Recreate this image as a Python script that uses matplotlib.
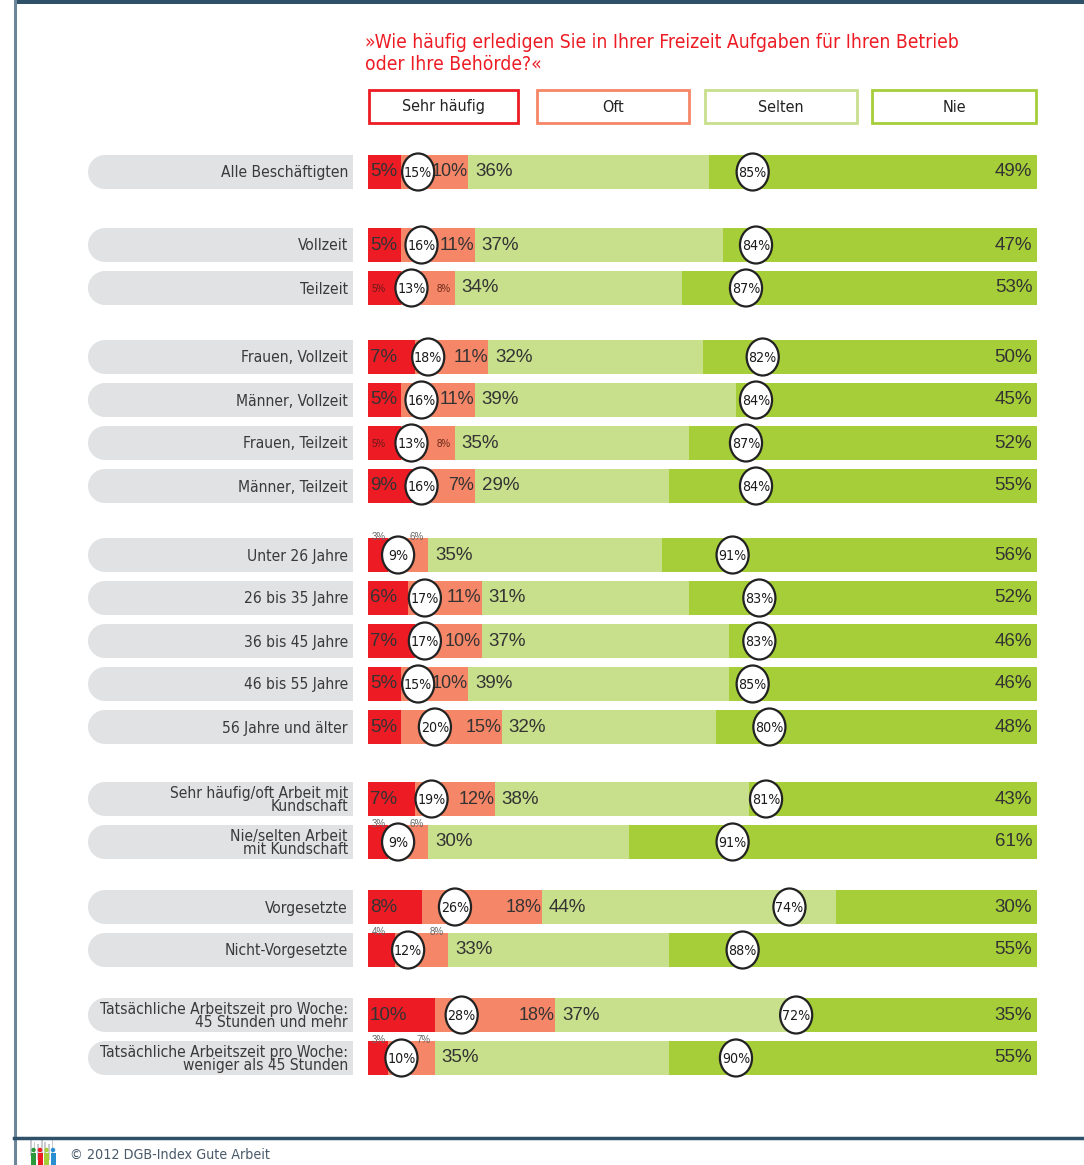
import matplotlib.pyplot as plt
from matplotlib import font_manager as fm
from matplotlib.patches import Rectangle, Ellipse

# Daten aus der Grafik
labels = ['Alle Beschäftigten', 'Vollzeit', 'Teilzeit',
          'Frauen, Vollzeit', 'Männer, Vollzeit', 'Frauen, Teilzeit', 'Männer, Teilzeit',
          'Unter 26 Jahre', '26 bis 35 Jahre', '36 bis 45 Jahre', '46 bis 55 Jahre', '56 Jahre und älter',
          'Sehr häufig/oft Arbeit mit\nKundschaft', 'Nie/selten Arbeit\nmit Kundschaft',
          'Vorgesetzte', 'Nicht-Vorgesetzte',
          'Tatsächliche Arbeitszeit pro Woche:\n45 Stunden und mehr',
          'Tatsächliche Arbeitszeit pro Woche:\nweniger als 45 Stunden']
groups = [0, 1, 1, 2, 2, 2, 2, 3, 3, 3, 3, 3, 4, 4, 5, 5, 6, 6]
sehr_haeufig = [5, 5, 5, 7, 5, 5, 9, 3, 6, 7, 5, 5, 7, 3, 8, 4, 10, 3]
oft = [10, 11, 8, 11, 11, 8, 7, 6, 11, 10, 10, 15, 12, 6, 18, 8, 18, 7]
selten = [36, 37, 34, 32, 39, 35, 29, 35, 31, 37, 39, 32, 38, 30, 44, 33, 37, 35]
nie = [49, 47, 53, 50, 45, 52, 55, 56, 52, 46, 46, 48, 43, 61, 30, 55, 35, 55]
summe_haeufig = [15, 16, 13, 18, 16, 13, 16, 9, 17, 17, 15, 20, 19, 9, 26, 12, 28, 10]
summe_selten = [85, 84, 87, 82, 84, 87, 84, 91, 83, 83, 85, 80, 81, 91, 74, 88, 72, 90]
# Art der Beschriftung kleiner Werte: 'gross', 'klein' (im Balken), 'oben' (über dem Balken)
stil = ['gross', 'gross', 'klein', 'gross', 'gross', 'klein', 'gross',
        'oben', 'gross', 'gross', 'gross', 'gross', 'gross', 'oben',
        'gross', 'oben', 'gross', 'oben']
kategorien = ['Sehr häufig', 'Oft', 'Selten', 'Nie']
titel = ['»Wie häufig erledigen Sie in Ihrer Freizeit Aufgaben für Ihren Betrieb',
         'oder Ihre Behörde?«']

farben = ['#ed1c24', '#f58667', '#c8df8c', '#a6ce39']
textfarbe = '#333333'


# schmale Schrift suchen (die Vorlage nutzt eine Condensed-Schrift)
def schmale_schrift():
    namen = {f.name for f in fm.fontManager.ttflist}
    if 'Liberation Sans Narrow' in namen:
        return dict(family=['Liberation Sans Narrow', 'DejaVu Sans'])
    for kandidat in ['DejaVu Sans', 'Noto Sans', 'Open Sans', 'Roboto']:
        for f in fm.fontManager.ttflist:
            st = f.stretch
            eng = (st in ('condensed', 'semi-condensed', 'extra-condensed', 'ultra-condensed')
                   or (isinstance(st, int) and st < 500))
            if f.name == kandidat and eng:
                return dict(family=[kandidat], fontstretch='condensed')
    return dict(family=['Roboto', 'DejaVu Sans'])


schmal = schmale_schrift()
normal = dict(family=['Liberation Sans', 'DejaVu Sans'])

W, H = 1084, 1165
fig = plt.figure(figsize=(W / 100, H / 100), dpi=100)

# Hintergrund-Achse in Pixelkoordinaten
bg = fig.add_axes([0, 0, 1, 1])
bg.set_xlim(0, W)
bg.set_ylim(H, 0)
bg.axis('off')

# Balken-Achse (0-100 %)
x0, x1 = 368, 1037
ax = fig.add_axes([x0 / W, 0, (x1 - x0) / W, 1])
ax.set_xlim(0, 100)
ax.set_ylim(H, 0)
ax.axis('off')
ax.patch.set_alpha(0)

# Rahmen
bg.add_patch(Rectangle((14, 0), W - 14, 4, color='#2e5068', lw=0))
bg.plot([15, 15], [0, H], color='#6d8799', lw=2.2)
bg.plot([14, W], [1138, 1138], color='#2e5068', lw=2.5)

# Titel
bg.text(365, 43, titel[0], color='#ed1c24', fontsize=13.9, va='center', ha='left', **schmal)
bg.text(365, 64, titel[1], color='#ed1c24', fontsize=13.9, va='center', ha='left', **schmal)

# Legende als Kästen
kasten = [(369, 518), (537, 689), (705, 857), (872, 1036)]
for (a, b), name, c in zip(kasten, kategorien, farben):
    bg.add_patch(Rectangle((a, 90), b - a, 33, fc='white', ec=c, lw=2))
    bg.text((a + b) / 2, 107, name, ha='center', va='center', fontsize=11.5,
            color='#222222', **schmal)

# Zeilenpositionen: 43 px je Zeile, zusätzlicher Abstand zwischen den Gruppen
gruppen_abstand = [0, 30, 26, 26, 29, 22, 22]
y = []
pos = 172
for i, g in enumerate(groups):
    if i > 0:
        pos += 43 + (gruppen_abstand[g] if g != groups[i - 1] else 0)
    y.append(pos)
bh = 34

for yi, lab in zip(y, labels):
    bg.add_patch(Rectangle((105, yi - bh / 2), 353 - 105, bh, fc='#e1e2e4', ec='none'))
    bg.add_patch(Ellipse((105, yi), 34, bh, fc='#e1e2e4', ec='none'))
    bg.text(348, yi + 1, lab, ha='right', va='center', fontsize=11.2,
            color='#3a3a3a', linespacing=0.85, **schmal)

links = [0] * len(y)
for werte, c in zip([sehr_haeufig, oft, selten, nie], farben):
    ax.barh(y, werte, left=links, height=bh, color=c, lw=0, zorder=2)
    links = [l + w for l, w in zip(links, werte)]

for i, yi in enumerate(y):
    r, o, s, n = sehr_haeufig[i], oft[i], selten[i], nie[i]
    if stil[i] == 'gross':
        ax.text(0.3, yi, f'{r}%', ha='left', va='center', fontsize=13.5, color=textfarbe, zorder=4, **normal)
        ax.text(r + o - 0.1, yi, f'{o}%', ha='right', va='center', fontsize=13, color=textfarbe, zorder=4, **normal)
    elif stil[i] == 'klein':
        ax.text(0.6, yi + 1, f'{r}%', ha='left', va='center', fontsize=7, color='#6a1a1a', zorder=4, **normal)
        ax.text(r + o - 0.7, yi + 1, f'{o}%', ha='right', va='center', fontsize=7, color='#6a2a1a', zorder=4, **normal)
    else:
        ax.text(0.6, yi - bh / 2 - 1, f'{r}%', ha='left', va='center', fontsize=7, color='#666666', zorder=4, **normal)
        ax.text(r + o - 0.7, yi - bh / 2 - 1, f'{o}%', ha='right', va='center', fontsize=7, color='#666666', zorder=4, **normal)
    ax.text(r + o + 1.0, yi, f'{s}%', ha='left', va='center', fontsize=13.5,
            color=textfarbe, zorder=4, **normal)
    ax.text(99.3, yi, f'{n}%', ha='right', va='center', fontsize=13.5, color=textfarbe, zorder=4, **normal)

    # Kreise mit Summen
    for cx, wert in [(summe_haeufig[i] / 2, summe_haeufig[i]),
                     (summe_haeufig[i] + summe_selten[i] / 2, summe_selten[i])]:
        ax.add_patch(Ellipse((cx, yi), 4.8, 37, fc='white', ec='#222222', lw=1.6, zorder=5))
        ax.text(cx, yi + 1, f'{wert}%', ha='center', va='center', fontsize=10.2,
                color='#1a1a1a', zorder=6, **schmal)

# Fußzeile mit kleinem Logo
for k in range(7):
    bg.add_patch(Rectangle((30 + k * 3.6, 1140 + (k % 3) * 2), 1.8, 16, color='#c8ccd2', lw=0, zorder=1))
for k, c in enumerate(['#2a9a3a', '#ed1c24', '#a6ce39', '#2a8fd0']):
    bg.add_patch(Rectangle((31 + k * 6.5, 1153), 5, 12, color=c, lw=0, zorder=2))
    bg.add_patch(Ellipse((33.5 + k * 6.5, 1150), 4.5, 4.5, color=c, lw=0, zorder=2))
bg.text(70, 1155, '© 2012 DGB-Index Gute Arbeit', ha='left', va='center', fontsize=10.3,
        color='#4a5a6a', **schmal)

fig.savefig('out.png', dpi=100)
